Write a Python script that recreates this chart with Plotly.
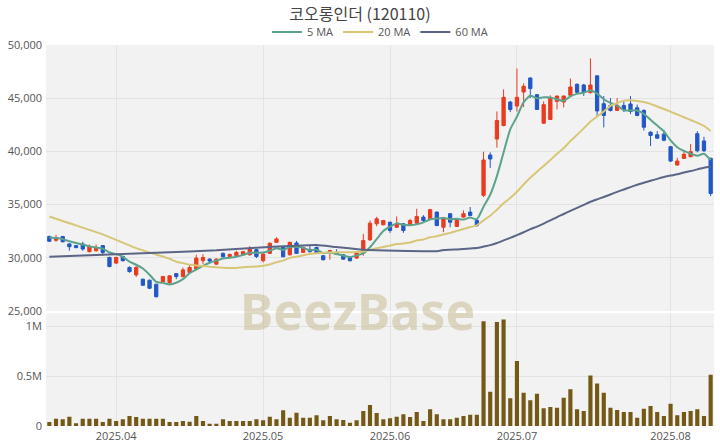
import pandas as pd
import plotly.graph_objects as go

# ---------------- data ----------------
holidays = ["2025-05-01", "2025-05-05", "2025-05-06", "2025-06-03", "2025-06-06"]
dates = [d.strftime("%Y-%m-%d") for d in pd.bdate_range("2025-03-18", "2025-08-11")
         if d.strftime("%Y-%m-%d") not in holidays]

opens = [32000, 31640, 32000, 31300, 31140, 31300, 30570, 30660, 31140, 30030,
         29500, 30120, 29080, 28390, 27980, 27890, 27510, 27730, 27660, 28510,
         28230, 28610, 28930, 29720, 29870, 29400, 30410, 30120, 30190, 30280,
         30280, 30760, 29720, 30410, 31450, 31040, 30280, 31390, 30500, 30790,
         30970, 30190, 30570, 30500, 30280, 30090, 29970, 30500, 31680, 33190,
         33100, 33340, 32870, 33190, 33100, 33250, 33820, 33660, 34290, 32870,
         34140, 32940, 33820, 34290, 33500, 35870, 39660, 41160, 42430, 44640,
         44260, 45580, 46900, 45330, 42650, 43000, 44700, 44640, 45270, 46300,
         46240, 45520, 47100, 44480, 44320, 43850, 44320, 44460, 44100, 43850,
         41800, 41560, 41620, 40440, 38720, 39340, 39500, 41660, 40980, 39350]
highs = [32080, 32150, 32050, 31350, 31200, 31500, 31250, 31250, 31200, 30100,
         30100, 30200, 29200, 29400, 28050, 27950, 27550, 28300, 28350, 28550,
         29080, 29300, 30280, 30340, 29950, 29950, 30500, 30400, 30660, 30650,
         31100, 30850, 30400, 31450, 31930, 31100, 31500, 31580, 31050, 31100,
         31050, 30250, 30700, 30800, 30350, 30150, 30550, 32240, 33500, 33850,
         33560, 33400, 33880, 33250, 33660, 34610, 34000, 34600, 34350, 33820,
         34200, 33720, 34450, 34770, 33600, 39970, 39910, 43750, 45830, 44750,
         47790, 46400, 46950, 45400, 44700, 45270, 45250, 45250, 46850, 46400,
         46350, 48740, 47150, 45200, 45010, 45010, 44700, 45200, 44400, 43950,
         41900, 41900, 42000, 40500, 39400, 40130, 40690, 41900, 41370, 39400]
lows = [31500, 31500, 31450, 30660, 30900, 30660, 30500, 30570, 30190, 29100,
        29400, 29650, 28600, 28200, 27350, 27050, 26250, 27650, 27440, 27980,
        28150, 28550, 28850, 29400, 29600, 29350, 30000, 30050, 30150, 30200,
        30200, 29970, 29560, 30350, 31400, 30050, 30200, 30350, 30450, 30500,
        30350, 29750, 29810, 30250, 29800, 29650, 29900, 30190, 31600, 32950,
        33050, 32340, 32800, 32340, 33050, 33200, 33300, 33600, 32950, 32400,
        32870, 32900, 33760, 33900, 32900, 35710, 38450, 40350, 42350, 43690,
        43750, 44160, 45010, 43900, 42600, 42950, 43940, 44130, 45200, 45400,
        45200, 45450, 43300, 42250, 43750, 43800, 43700, 43500, 43300, 41960,
        40500, 41200, 40950, 39000, 38650, 39300, 39450, 39900, 39950, 35790]
closes = [31550, 31900, 31500, 31040, 30950, 30820, 31040, 30950, 30500, 29180,
          30030, 29720, 28700, 29080, 27410, 27130, 26340, 28230, 28300, 28230,
          28860, 29080, 29970, 30030, 29690, 29870, 30090, 30310, 30500, 30570,
          30880, 30120, 30350, 31360, 31770, 30090, 31450, 30410, 30970, 30570,
          30410, 29810, 30660, 30310, 29870, 29720, 30500, 31610, 33250, 33660,
          33500, 32560, 33190, 32560, 33500, 33880, 33500, 34520, 33030, 33760,
          33340, 33660, 34140, 33980, 33030, 39190, 39280, 42900, 45080, 43940,
          45080, 46120, 45900, 43940, 44390, 45020, 45200, 45200, 46050, 45550,
          45550, 46240, 43800, 43380, 43850, 44320, 43940, 43750, 43380, 42270,
          41500, 41240, 41050, 39090, 39090, 39720, 39970, 40060, 40060, 36040]
volumes = [40000, 73000, 67000, 93000, 27000, 73000, 73000, 73000, 40000, 73000,
           50000, 67000, 100000, 90000, 73000, 73000, 73000, 73000, 40000, 40000,
           50000, 43000, 100000, 50000, 23000, 23000, 67000, 50000, 50000, 50000,
           50000, 67000, 57000, 93000, 67000, 157000, 83000, 133000, 83000, 83000,
           107000, 57000, 100000, 67000, 60000, 33000, 57000, 150000, 210000, 130000,
           67000, 77000, 93000, 117000, 90000, 140000, 50000, 167000, 117000, 67000,
           67000, 83000, 100000, 113000, 113000, 1050000, 343000, 1043000, 1067000, 277000,
           650000, 333000, 257000, 323000, 177000, 190000, 183000, 283000, 367000, 167000,
           150000, 507000, 427000, 333000, 183000, 160000, 140000, 140000, 83000, 173000,
           200000, 140000, 100000, 223000, 107000, 140000, 150000, 167000, 100000, 513000]

ma5_head_idx = [0, 1, 2, 3]
ma5_head_val = [31900, 31850, 31750, 31550]
ma20_head_idx = [0, 3, 8, 13, 16, 18]
ma20_head_val = [33880, 33250, 32200, 30900, 30300, 29900]
ma60_head_idx = [0, 9, 17, 25, 31, 36, 40, 43, 47, 52, 58]
ma60_head_val = [30100, 30300, 30500, 30700, 30950, 31100, 31200, 31000, 30750, 30650, 30620]

tick_vals = ["2025-04-01", "2025-05-02", "2025-06-02", "2025-07-01", "2025-08-01"]
tick_text = ["2025.04", "2025.05", "2025.06", "2025.07", "2025.08"]

# ---------------- figure ----------------
close_s = pd.Series(closes)


def ma_series(window, head_idx, head_val):
    roll = close_s.rolling(window).mean()
    xs = [dates[i] for i in head_idx] + dates[window - 1:]
    ys = list(head_val) + list(roll[window - 1:])
    return xs, ys


RED = "#EA3B1E"
BLUE = "#2257C7"
FONT = "Open Sans, Noto Sans CJK KR, sans-serif"

fig = go.Figure()
fig.add_trace(go.Candlestick(
    x=dates, open=opens, high=highs, low=lows, close=closes,
    increasing=dict(line=dict(color=RED, width=1), fillcolor=RED),
    decreasing=dict(line=dict(color=BLUE, width=1), fillcolor=BLUE),
    whiskerwidth=0, showlegend=False, xaxis="x", yaxis="y"))

for (w, hi, hv, col, name) in [
        (5, ma5_head_idx, ma5_head_val, "#5BA38C", "5 MA"),
        (20, ma20_head_idx, ma20_head_val, "#D8C677", "20 MA"),
        (60, ma60_head_idx, ma60_head_val, "#5B6687", "60 MA")]:
    xs, ys = ma_series(w, hi, hv)
    fig.add_trace(go.Scatter(x=xs, y=ys, mode="lines", name=name,
                             line=dict(color=col, width=2, shape="spline", smoothing=0.6),
                             xaxis="x", yaxis="y"))

fig.add_trace(go.Bar(x=dates, y=volumes, marker=dict(color="#735915", line=dict(width=0)),
                     showlegend=False, xaxis="x2", yaxis="y2"))

GRID = "#E3E3E3"
xr = [-0.5, len(dates) - 0.5]
fig.update_layout(
    width=720, height=448,
    margin=dict(l=46, r=6, t=45, b=22, autoexpand=False),
    paper_bgcolor="white", plot_bgcolor="#F2F2F2",
    font=dict(family=FONT, color="#555555", size=11),
    title=dict(text="코오롱인더 (120110)", x=0.5, xanchor="center",
               yref="container", y=1 - 14 / 448, yanchor="middle",
               font=dict(size=16, color="#444444", family="Noto Sans CJK KR, sans-serif")),
    legend=dict(orientation="h", x=0.5, xanchor="center",
                yref="container", y=1 - 32 / 448, yanchor="middle",
                font=dict(size=11, color="#555555"), bgcolor="rgba(0,0,0,0)",
                itemwidth=30, tracegroupgap=0),
    bargap=0.38,
    showlegend=True,
    xaxis=dict(type="category", domain=[0, 1], anchor="y", matches="x2", range=xr,
               rangeslider=dict(visible=False), showticklabels=False,
               tickvals=tick_vals, ticktext=tick_text, showgrid=True, gridcolor=GRID,
               ticks="", zeroline=False, automargin=False),
    yaxis=dict(domain=[0.302, 1], range=[25000, 50000], tickvals=[25000, 30000, 35000, 40000, 45000, 50000],
               tickformat=",", showgrid=True, gridcolor=GRID, zeroline=False, ticks="",
               ticklabelstandoff=3, automargin=False),
    xaxis2=dict(type="category", domain=[0, 1], anchor="y2", range=xr,
                tickvals=tick_vals, ticktext=tick_text, showgrid=True, gridcolor=GRID,
                ticks="", zeroline=False, tickfont=dict(size=11), automargin=False,
                ticklabelstandoff=2),
    yaxis2=dict(domain=[0, 0.296], range=[0, 1130000], tickvals=[0, 500000, 1000000],
                ticktext=["0", "0.5M", "1M"], showgrid=True, gridcolor=GRID, zeroline=False,
                ticks="", ticklabelstandoff=3, automargin=False),
)

fig.add_annotation(text="<b>BeezBase</b>", xref="paper", yref="paper", x=0.467, y=0.302,
                   xanchor="center", yanchor="middle",
                   showarrow=False, font=dict(size=50, color="rgba(196,184,140,0.5)",
                                              family="Noto Sans, sans-serif"))

fig.write_html("out.html", post_script="document.body.style.margin='0';",
               config={"displayModeBar": False})
